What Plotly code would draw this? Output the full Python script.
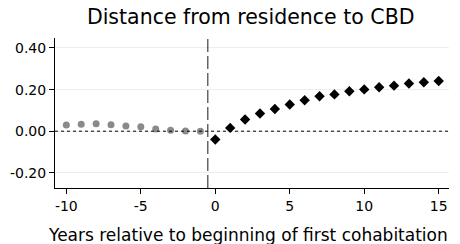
import plotly.graph_objects as go

pre_x = [-10, -9, -8, -7, -6, -5, -4, -3, -2, -1]
pre_y = [0.030, 0.033, 0.036, 0.031, 0.025, 0.021, 0.011, 0.005, 0.001, 0.000]
post_x = list(range(0, 16))
post_y = [-0.040, 0.016, 0.056, 0.085, 0.107, 0.128, 0.149, 0.168, 0.177, 0.192,
          0.201, 0.211, 0.219, 0.229, 0.235, 0.241]
y_ticks = [-0.2, 0.0, 0.2, 0.4]
y_tick_labels = ["-0.20", "0.00", "0.20", "0.40"]
x_ticks = [-10, -5, 0, 5, 10, 15]
x_tick_labels = ["-10", "-5", "0", "5", "10", "15"]

fig = go.Figure()
fig.add_trace(go.Scatter(x=pre_x, y=pre_y, mode="markers",
                         marker=dict(symbol="circle", size=7, color="#8a8a8a"),
                         showlegend=False))
fig.add_trace(go.Scatter(x=post_x, y=post_y, mode="markers",
                         marker=dict(symbol="diamond", size=8, color="black"),
                         showlegend=False))

fig.add_hline(y=0, line=dict(color="black", width=1, dash="3px,3px"))
fig.add_vline(x=-0.5, line=dict(color="#1a1a1a", width=1, dash="13px,4px"))

fig.add_annotation(text="Years relative to beginning of first cohabitation",
                   xref="paper", yref="paper", x=0.4886, y=-0.313,
                   xanchor="center", yanchor="middle", showarrow=False,
                   font=dict(size=17, color="black"))

fig.update_layout(
    width=460, height=244,
    margin=dict(l=55, r=11, t=38, b=56),
    paper_bgcolor="white", plot_bgcolor="white",
    font=dict(family="DejaVu Sans, sans-serif", color="black"),
    title=dict(text="Distance from residence to CBD", x=0.545, xanchor="center",
               y=0.93, yanchor="middle", font=dict(size=20.5)),
    xaxis=dict(range=[-10.76, 15.69], tickvals=x_ticks, ticktext=x_tick_labels,
               ticks="outside", ticklen=5,
               tickcolor="black", showline=True, linecolor="black", linewidth=1,
               showgrid=False, zeroline=False, tickfont=dict(size=14)),
    yaxis=dict(range=[-0.273, 0.448], tickvals=y_ticks, ticktext=y_tick_labels,
               ticks="outside", ticklen=5, tickcolor="black", showline=True,
               linecolor="black", linewidth=1, showgrid=True, gridcolor="#e8f0f2",
               zeroline=False, tickfont=dict(size=14)),
)

fig.write_html("out.html", config={"displayModeBar": False},
               post_script="document.body.style.margin='0';")
